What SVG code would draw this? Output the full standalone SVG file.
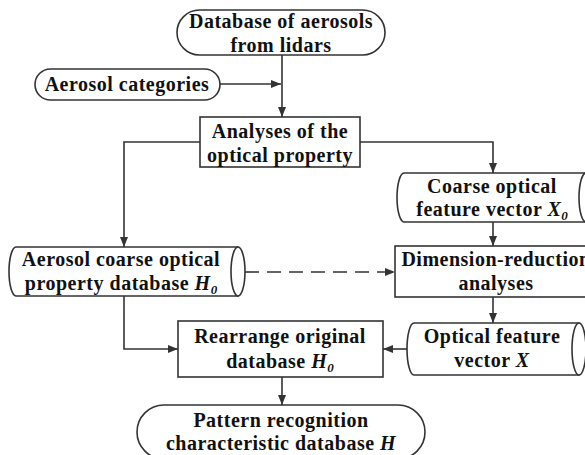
<svg xmlns="http://www.w3.org/2000/svg" width="585" height="455" viewBox="0 0 585 455">
<style>
.s{fill:#fff;stroke:#333;stroke-width:1.6}
.t{font-family:"Liberation Serif","Times New Roman",serif;font-weight:bold;font-size:20px;letter-spacing:0.5px;fill:#111;text-anchor:middle}
.i{font-style:italic}
.sub{font-style:italic;font-size:13px;letter-spacing:0}
.c{fill:none;stroke:#333;stroke-width:1.6}
</style>
<defs>
<marker id="a" viewBox="0 0 10 10" refX="10" refY="5" markerWidth="10" markerHeight="10" markerUnits="userSpaceOnUse" orient="auto">
<path d="M0,1 L10,5 L0,9 Z" fill="#333"/>
</marker>
</defs>
<rect width="585" height="455" fill="#fff"/>
<g id="connectors">
<path class="c" d="M282,55 V117" marker-end="url(#a)"/>
<path class="c" d="M220,84 H281" marker-end="url(#a)"/>
<path class="c" d="M200,142 H124 V247" marker-end="url(#a)"/>
<path class="c" d="M360,142 H493 V173" marker-end="url(#a)"/>
<path class="c" d="M493,222 V246" marker-end="url(#a)"/>
<path class="c" d="M245,272 H395" stroke-dasharray="14,8" marker-end="url(#a)"/>
<path class="c" d="M124,296 V349 H178" marker-end="url(#a)"/>
<path class="c" d="M493,297 V323" marker-end="url(#a)"/>
<path class="c" d="M408,349 H383" marker-end="url(#a)"/>
<path class="c" d="M282,377 V405" marker-end="url(#a)"/>
</g>
<g id="db-lidars">
<rect class="s" x="177" y="10" width="208" height="45" rx="22.5"/>
<text class="t" x="281" y="28">Database of  aerosols</text>
<text class="t" x="281" y="52">from lidars</text>
</g>
<g id="aerosol-categories">
<rect class="s" x="35" y="69" width="185" height="31" rx="15.5"/>
<text class="t" x="127" y="91">Aerosol categories</text>
</g>
<g id="analyses">
<rect class="s" x="200" y="117" width="160" height="50"/>
<text class="t" x="280" y="138">Analyses of the</text>
<text class="t" x="280" y="162">optical property</text>
</g>
<g id="coarse-vector">
<path class="s" d="M404,173 H586 V222 H404 A7,24.5 0 0 1 404,173 Z"/>
<ellipse class="s" cx="586" cy="197.5" rx="7" ry="24.5"/>
<text class="t" x="492" y="193">Coarse  optical</text>
<text class="t" x="492" y="216">feature vector <tspan class="i">X</tspan><tspan class="sub" dy="4">0</tspan></text>
</g>
<g id="dimension-reduction">
<rect class="s" x="395" y="246" width="200" height="51"/>
<text class="t" x="496" y="266">Dimension-reduction</text>
<text class="t" x="496" y="290">analyses</text>
</g>
<g id="coarse-db">
<path class="s" d="M16,247 H238 V296 H16 A7,24.5 0 0 1 16,247 Z"/>
<ellipse class="s" cx="238" cy="271.5" rx="7" ry="24.5"/>
<text class="t" x="121" y="266">Aerosol  coarse optical</text>
<text class="t" x="121" y="290">property database <tspan class="i">H</tspan><tspan class="sub" dy="4">0</tspan></text>
</g>
<g id="rearrange">
<rect class="s" x="178" y="321" width="205" height="56"/>
<text class="t" x="280" y="343">Rearrange original</text>
<text class="t" x="280" y="368">database <tspan class="i">H</tspan><tspan class="sub" dy="4">0</tspan></text>
</g>
<g id="optical-vector">
<path class="s" d="M414,323 H579 V375 H414 A7,26 0 0 1 414,323 Z"/>
<ellipse class="s" cx="579" cy="349" rx="7" ry="26"/>
<text class="t" x="492" y="343">Optical feature</text>
<text class="t" x="492" y="367">vector <tspan class="i">X</tspan></text>
</g>
<g id="pattern">
<rect class="s" x="137" y="405" width="288" height="54" rx="27"/>
<text class="t" x="281" y="427">Pattern  recognition</text>
<text class="t" x="281" y="450">characteristic database <tspan class="i">H</tspan></text>
</g>
</svg>
